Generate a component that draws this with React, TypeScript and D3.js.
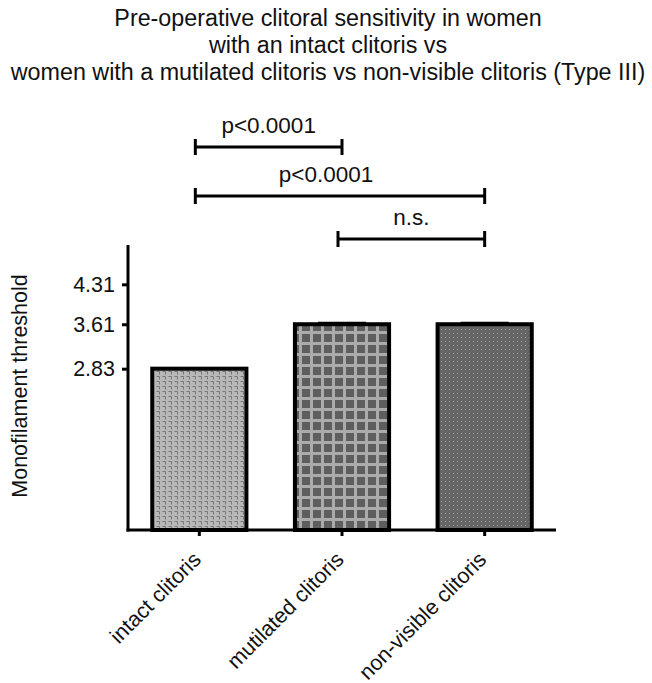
import React, { useRef, useEffect } from "react";
import * as d3 from "d3";

const titleLines = [
  "Pre-operative clitoral sensitivity in women",
  "with an intact clitoris vs",
  "women with a mutilated clitoris vs non-visible clitoris (Type III)",
];
const categories = ["intact clitoris", "mutilated clitoris", "non-visible clitoris"];
const values = [2.83, 3.61, 3.61];
const errors = [0, 0.01, 0.01];
const yTicks = [2.83, 3.61, 4.31];
const brackets = [
  { from: 0, to: 1, label: "p<0.0001" },
  { from: 0, to: 2, label: "p<0.0001" },
  { from: 1, to: 2, label: "n.s." },
];

const FONT = "'Liberation Sans', Arial, sans-serif";

const App = () => {
  const svgRef = useRef<SVGSVGElement>(null);

  useEffect(() => {
    const svg = d3.select(svgRef.current);
    svg.selectAll("*").remove();

    const W = 652;
    const H = 683;
    svg.attr("width", W).attr("height", H).attr("viewBox", `0 0 ${W} ${H}`);

    // patterns
    const defs = svg.append("defs");
    const p1 = defs
      .append("pattern")
      .attr("id", "pat-intact")
      .attr("patternUnits", "userSpaceOnUse")
      .attr("width", 6)
      .attr("height", 5);
    p1.append("rect").attr("width", 6).attr("height", 5).attr("fill", "#b8b8b8");
    p1.append("path")
      .attr("d", "M0.5,1.5 H3.5 V4.5")
      .attr("fill", "none")
      .attr("stroke", "#777")
      .attr("stroke-width", 1);

    const p2 = defs
      .append("pattern")
      .attr("id", "pat-mutilated")
      .attr("patternUnits", "userSpaceOnUse")
      .attr("width", 11)
      .attr("height", 11)
      .attr("x", 2)
      .attr("y", 1);
    p2.append("rect").attr("width", 11).attr("height", 11).attr("fill", "#ababab");
    p2.append("rect").attr("x", 3).attr("y", 3).attr("width", 8).attr("height", 8).attr("fill", "#5e5e5e");

    const p3 = defs
      .append("pattern")
      .attr("id", "pat-nonvisible")
      .attr("patternUnits", "userSpaceOnUse")
      .attr("width", 4)
      .attr("height", 4);
    p3.append("rect").attr("width", 4).attr("height", 4).attr("fill", "#656565");
    p3.append("rect").attr("x", 1).attr("y", 1).attr("width", 1).attr("height", 1).attr("fill", "#a0a0a0");

    const fills = ["url(#pat-intact)", "url(#pat-mutilated)", "url(#pat-nonvisible)"];

    // title
    svg
      .append("g")
      .selectAll("text")
      .data(titleLines)
      .enter()
      .append("text")
      .attr("x", 328)
      .attr("y", (d, i) => 26 + i * 27)
      .attr("text-anchor", "middle")
      .attr("font-family", FONT)
      .attr("font-size", 23.3)
      .attr("fill", "#111")
      .text((d) => d);

    const x0 = 128;
    const x1 = 556;
    const yBase = 530;
    const yTop = 245;

    const x = d3
      .scaleBand()
      .domain(categories)
      .range([x0, x1])
      .paddingInner(0.34)
      .paddingOuter(0.17);
    const y = d3.scaleLinear().domain([0, 5]).range([yBase, yTop]);

    const g = svg.append("g");

    // bars
    g.selectAll("rect.bar")
      .data(categories)
      .enter()
      .append("rect")
      .attr("class", "bar")
      .attr("x", (d) => x(d)!)
      .attr("y", (d, i) => y(values[i]))
      .attr("width", x.bandwidth())
      .attr("height", (d, i) => yBase - y(values[i]))
      .attr("fill", (d, i) => fills[i])
      .attr("stroke", "#000")
      .attr("stroke-width", 4);

    // error caps
    g.selectAll("line.err")
      .data(categories.filter((d, i) => errors[i] > 0))
      .enter()
      .append("line")
      .attr("class", "err")
      .attr("x1", (d) => x(d)! + x.bandwidth() / 2 - 24)
      .attr("x2", (d) => x(d)! + x.bandwidth() / 2 + 24)
      .attr("y1", (d) => y(values[categories.indexOf(d)] + errors[categories.indexOf(d)]) - 1)
      .attr("y2", (d) => y(values[categories.indexOf(d)] + errors[categories.indexOf(d)]) - 1)
      .attr("stroke", "#000")
      .attr("stroke-width", 2);

    // y axis
    const yAxis = g
      .append("g")
      .attr("transform", `translate(${x0},0)`)
      .call(d3.axisLeft(y).tickValues(yTicks).tickSize(6).tickPadding(7).tickFormat(d3.format(".2f")));
    yAxis.select(".domain").attr("d", `M0,${yTop}V${yBase + 1.5}`).attr("stroke-width", 3);
    yAxis.selectAll(".tick line").attr("stroke-width", 3);
    yAxis
      .selectAll(".tick text")
      .attr("font-family", FONT)
      .attr("font-size", 21.5)
      .attr("fill", "#111");

    // x axis
    const xAxis = g
      .append("g")
      .attr("transform", `translate(0,${yBase})`)
      .call(d3.axisBottom(x).tickSize(6).tickPadding(0));
    xAxis.select(".domain").attr("d", `M${x0 - 1.5},0H${x1}`).attr("stroke-width", 3);
    xAxis.selectAll(".tick line").attr("stroke-width", 3);
    xAxis
      .selectAll(".tick text")
      .attr("font-family", FONT)
      .attr("font-size", 21.5)
      .attr("fill", "#111")
      .attr("text-anchor", "end")
      .attr("y", 0)
      .attr("dy", 0)
      .attr("transform", "translate(3,31) rotate(-45)");

    // y label
    svg
      .append("text")
      .attr("transform", `translate(27,${386}) rotate(-90)`)
      .attr("text-anchor", "middle")
      .attr("font-family", FONT)
      .attr("font-size", 21.5)
      .attr("fill", "#111")
      .text("Monofilament threshold");

    // significance brackets
    const cx = (i: number) => x(categories[i])! + x.bandwidth() / 2;
    const bracketY = [147, 196, 239];
    const labelShift = [0, -14, 0];
    const br = svg.append("g");
    brackets.forEach((b, k) => {
      const yy = bracketY[k];
      const xa = cx(b.from) - 4;
      const xb = cx(b.to);
      br.append("path")
        .attr("d", `M${xa},${yy - 8}V${yy + 8}M${xa},${yy}H${xb}M${xb},${yy - 8}V${yy + 8}`)
        .attr("fill", "none")
        .attr("stroke", "#000")
        .attr("stroke-width", 3);
      br.append("text")
        .attr("x", (xa + xb) / 2 + labelShift[k])
        .attr("y", yy - 14)
        .attr("text-anchor", "middle")
        .attr("font-family", FONT)
        .attr("font-size", 22.5)
        .attr("fill", "#111")
        .text(b.label);
    });
  }, []);

  return <svg ref={svgRef} style={{ position: "absolute", left: 0, top: 0 }}></svg>;
};

export default App;
